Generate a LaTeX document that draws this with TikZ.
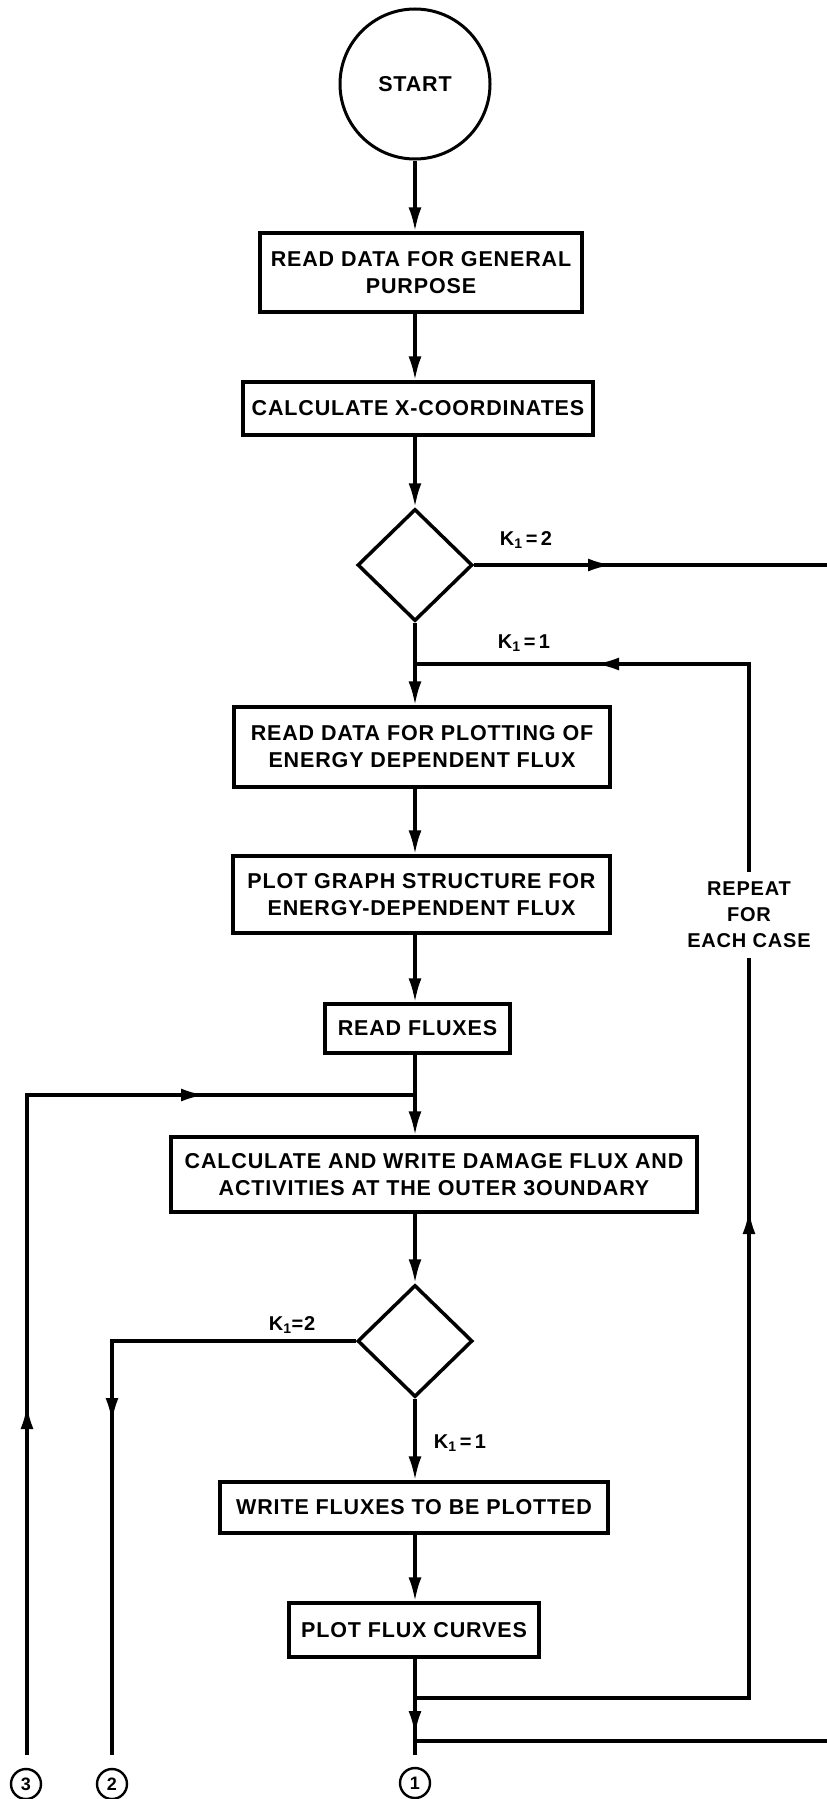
\documentclass[tikz,border=0pt]{standalone}
\usepackage{fontspec}
\setmainfont{Liberation Sans}[LetterSpace=4]
\usetikzlibrary{arrows.meta,shapes.geometric}
\begin{document}
\begin{tikzpicture}[x=1bp,y=-1bp,
  every node/.style={font=\fontsize{21.5bp}{27bp}\selectfont\bfseries},
  box/.style={draw,line width=3.2bp,rectangle,inner sep=0pt,align=center},
  dia/.style={draw,line width=3.5bp,diamond,inner sep=0pt,minimum width=115bp,minimum height=112bp},
  conn/.style={line width=3.4bp,line join=miter},
  arr/.style={conn,-{Latex[length=24bp,width=13bp]}},
  lab/.style={font=\fontsize{20bp}{26bp}\selectfont\bfseries,inner sep=0pt},
  num/.style={draw,circle,line width=2.4bp,inner sep=0pt,minimum size=30bp,font=\fontsize{18bp}{18bp}\selectfont\bfseries}]
\useasboundingbox (0,0) rectangle (827,1799);
\fill[white] (0,0) rectangle (827,1799);

% main column reference
\coordinate (mx) at (415,0);

% nodes
\node[draw,circle,line width=3bp,minimum size=150bp,inner sep=0pt] (start) at (415,84) {START};
\node[box,minimum width=322bp,minimum height=79bp] (b1) at (421,272.5) {READ DATA FOR GENERAL\\PURPOSE};
\node[box,minimum width=350bp,minimum height=53bp] (b2) at (418,408.5) {CALCULATE X-COORDINATES};
\node[dia] (d1) at (415,565) {};
\node[box,minimum width=376bp,minimum height=80bp] (b3) at (422,747) {READ DATA FOR PLOTTING OF\\ENERGY DEPENDENT FLUX};
\node[box,minimum width=377bp,minimum height=77bp] (b4) at (421.5,894.5) {PLOT GRAPH STRUCTURE FOR\\ENERGY-DEPENDENT FLUX};
\node[box,minimum width=185bp,minimum height=49bp] (b5) at (417.5,1028.5) {READ FLUXES};
\node[box,minimum width=526bp,minimum height=75bp] (b6) at (434,1174.5) {CALCULATE AND WRITE DAMAGE FLUX AND\\ACTIVITIES AT THE OUTER 3OUNDARY};
\node[dia] (d2) at (415,1341) {};
\node[box,minimum width=388bp,minimum height=51bp] (b7) at (414,1507.5) {WRITE FLUXES TO BE PLOTTED};
\node[box,minimum width=250bp,minimum height=54bp] (b8) at (414,1630) {PLOT FLUX CURVES};

% labels
\node[lab] (k2t) at (526,540) {K\textsubscript{1}\,=\,2};
\node[lab] (k1t) at (524,643) {K\textsubscript{1}\,=\,1};
\node[lab] (k2l) at (292,1325) {K\textsubscript{1}=2};
\node[lab] (k1l) at (460,1443) {K\textsubscript{1}\,=\,1};
\node[lab,align=center] (rep) at (749,915) {REPEAT\\FOR\\EACH CASE};

% off-page connectors
\node[num] (c1) at (415,1783) {1};
\node[num] (c2) at (112,1784) {2};
\node[num] (c3) at (26,1784) {3};

% coordinates for connector bends and mid-line arrows
\coordinate (k2a) at (612,565);
\coordinate (k2e) at (827,565);
\coordinate (k1j) at (415,664);
\coordinate (k1a) at (595,664);
\coordinate (rtop) at (749,664);
\coordinate (rgapT) at (749,872);
\coordinate (rgapB) at (749,958);
\coordinate (rarr) at (749,1210);
\coordinate (rbot) at (749,1698);
\coordinate (j1) at (415,1698);
\coordinate (marr) at (415,1735);
\coordinate (j2) at (415,1741);
\coordinate (mend) at (415,1755);
\coordinate (be) at (827,1741);
\coordinate (lj) at (415,1095);
\coordinate (larr) at (205,1095);
\coordinate (l3top) at (27,1095);
\coordinate (l3arr) at (27,1405);
\coordinate (l3end) at (27,1755);
\coordinate (l2arr) at (112,1422);
\coordinate (l2end) at (112,1755);

% main flow
\draw[arr] (start.south) -- (start.south |- b1.north);
\draw[arr] (b1.south -| mx) -- (b2.north -| mx);
\draw[arr] (b2.south -| mx) -- (d1.north);
\draw[arr] (d1.south) -- (b3.north -| mx);
\draw[arr] (b3.south -| mx) -- (b4.north -| mx);
\draw[arr] (b4.south -| mx) -- (b5.north -| mx);
\draw[arr] (b5.south -| mx) -- (b6.north -| mx);
\draw[arr] (b6.south -| mx) -- (d2.north);
\draw[arr] (d2.south) -- (b7.north -| mx);
\draw[arr] (b7.south -| mx) -- (b8.north -| mx);

% K1=2 branch off to the right
\draw[conn] (d1.east) -- (k2e);
\draw[arr] (d1.east) -- (k2a);

% repeat loop
\draw[conn] (b8.south -| mx) -- (mend);
\draw[conn] (j1) -- (rbot) -- (rgapB);
\draw[arr] (rbot) -- (rarr);
\draw[conn] (rgapT) -- (rtop) -- (k1j);
\draw[arr] (rtop) -- (k1a);

% bottom exits
\draw[arr] (j1) -- (marr);
\draw[conn] (be) -- (j2);

% left loops
\draw[conn] (l3end) -- (l3top) -- (lj);
\draw[arr] (l3end) -- (l3arr);
\draw[arr] (l3top) -- (larr);
\draw[conn] (d2.west) -| (l2end);
\draw[arr] (d2.west -| l2arr) -- (l2arr);
\end{tikzpicture}
\end{document}
